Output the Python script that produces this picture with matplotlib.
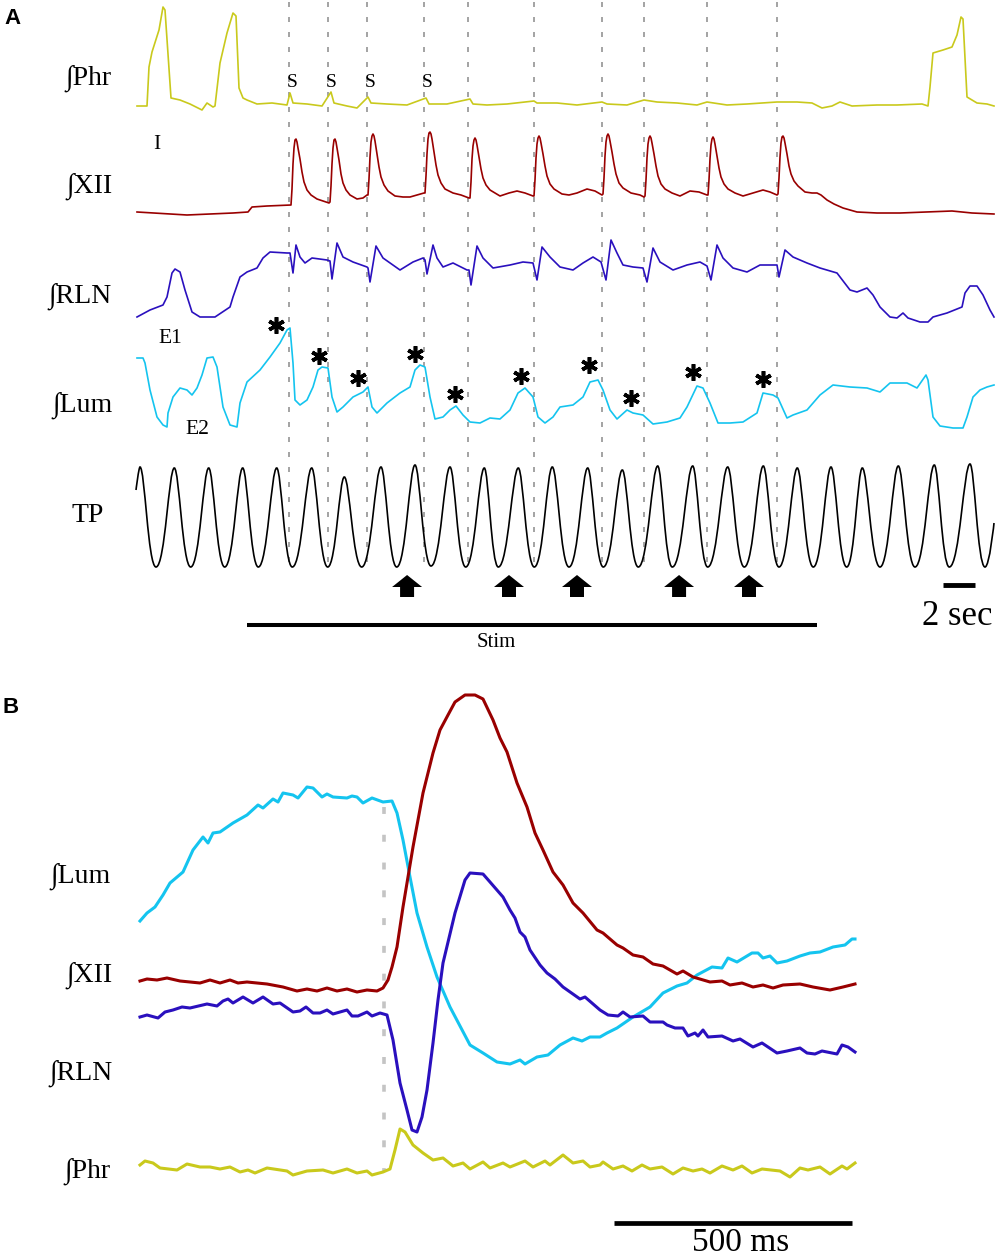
import numpy as np
import matplotlib
matplotlib.use("Agg")
import matplotlib.pyplot as plt
from matplotlib.path import Path
from matplotlib.patches import PathPatch, FancyArrow

plt.rcParams["lines.scale_dashes"] = False
SERIF = ["Liberation Serif", "DejaVu Serif"]

W, H = 1000, 1260
FS_A = 16.0            # panel A: samples per second (decimated trace)
MS_B = 500.0 / 238.0   # panel B: ms per sample

C_PHR = "#c9c91c"
C_XII = "#990000"
C_RLN = "#2a10be"
C_LUM = "#14c4ef"

# ---------------- panel A (samples, amplitude a.u.) ----------------
phr_a_x = [0, 10, 12, 15, 22, 26, 28, 34, 43, 53, 65, 70, 76, 78, 83, 90, 96, 99, 102, 106,
           110, 120, 135, 150, 153, 156, 170, 185, 194, 197, 210, 220, 231, 234, 250, 270, 289, 292, 310, 333,
           336, 350, 370, 397, 400, 420, 440, 465, 470, 490, 507, 520, 540, 560, 570, 590, 610, 640, 660, 675,
           685, 695, 703, 715, 740, 760, 785, 791, 793, 796, 806, 815, 820, 824, 826, 830, 840, 850, 857]
phr_a_y = [1, 1, 40, 55, 77, 100, 97, 9, 7, 3, -3, 4, 0, 1, 44, 74, 94, 91, 19, 9,
           7, 3, 4, 2, 14, 4, 3, 1, 15, 4, 1, -1, 10, 4, 3, 2, 9, 3, 3, 8,
           3, 2, 3, 6, 4, 4, 2, 5, 3, 2, 7, 5, 4, 2, 5, 2, 3, 5, 5, 4,
           -1, 1, 5, 1, 2, 2, 3, 1, 20, 54, 57, 60, 72, 90, 88, 10, 4, 3, 1]

xii_a_x = [0, 50, 96, 111, 115, 130, 152,
           154, 155, 156, 157, 158, 159, 160, 161, 163, 165, 167, 170, 174, 180, 186, 192,
           193, 194, 195, 196, 197, 198, 199, 200, 202, 204, 206, 209, 213, 220, 226, 230,
           231, 232, 233, 234, 235, 236, 237, 238, 240, 242, 244, 247, 251, 258, 266, 273, 280, 287,
           288, 289, 290, 291, 292, 293, 294, 295, 297, 299, 301, 304, 308, 316, 324, 332,
           333, 334, 335, 336, 337, 338, 339, 340, 342, 344, 346, 349, 353, 363, 372, 380, 388, 396,
           397, 398, 399, 400, 401, 402, 403, 404, 406, 408, 410, 413, 417, 425, 432, 440, 450, 458, 465,
           466, 467, 468, 469, 470, 471, 472, 473, 475, 477, 479, 482, 486, 494, 503, 507,
           508, 509, 510, 511, 512, 513, 514, 515, 517, 519, 521, 524, 528, 535, 543, 553, 562, 570,
           571, 572, 573, 574, 575, 576, 577, 578, 580, 582, 584, 587, 591, 598, 606, 616, 626, 633, 640,
           641, 642, 643, 644, 645, 646, 647, 648, 650, 652, 654, 657, 661, 668, 675, 680, 684, 690, 697,
           706, 720, 740, 763, 790, 815, 835, 857]
xii_a_y = [2, -1, 1, 2, 7, 8, 9,
           9, 25, 50, 66, 74, 75, 72, 66, 55, 42, 32, 24, 19, 15, 13, 11,
           12, 28, 50, 66, 74, 75, 72, 66, 54, 40, 31, 24, 19, 15, 16, 19,
           19, 35, 57, 72, 78, 80, 78, 73, 60, 47, 37, 29, 23, 18, 17, 17, 19, 21,
           21, 38, 60, 75, 81, 82, 80, 75, 62, 49, 39, 31, 25, 21, 19, 16,
           16, 32, 55, 68, 74, 76, 74, 69, 57, 45, 36, 29, 24, 18, 21, 23, 21, 18,
           18, 34, 56, 70, 76, 78, 76, 71, 60, 48, 38, 30, 25, 20, 19, 21, 25, 23, 19,
           20, 36, 58, 72, 78, 80, 78, 73, 62, 50, 40, 31, 26, 21, 19, 17,
           18, 34, 56, 70, 76, 78, 76, 71, 60, 48, 38, 30, 25, 21, 18, 23, 22, 19,
           19, 34, 55, 69, 75, 77, 75, 70, 58, 46, 37, 30, 25, 21, 18, 21, 24, 22, 19,
           20, 36, 57, 71, 77, 78, 76, 71, 60, 48, 40, 33, 28, 22, 21, 21, 19, 14, 10,
           6, 2, 1, 1, 2, 3, 1, 0]

rln_a_x = [0, 13, 26, 30, 35, 38, 43, 48, 55, 63, 78, 93, 96, 103, 110, 120, 126, 133, 150, 153,
           156, 159, 163, 168, 175, 190, 193, 195, 200, 206, 216, 230, 231, 233, 239, 246, 263, 276, 286, 288,
           290, 296, 300, 306, 316, 330, 332, 334, 340, 346, 356, 373, 386, 396, 400, 405, 413, 423, 436, 446,
           456, 464, 469, 474, 480, 486, 496, 506, 510, 516, 523, 536, 550, 563, 570, 574, 580, 586, 596, 610,
           623, 640, 642, 648, 656, 670, 683, 700, 713, 720, 730, 736, 743, 753, 760, 766, 771, 783, 791, 796,
           810, 825, 828, 833, 840, 846, 853, 857]
rln_a_y = [1, 8, 13, 21, 45, 49, 46, 28, 6, 1, 1, 11, 21, 41, 46, 50, 60, 66, 65, 65,
           45, 73, 61, 55, 60, 58, 57, 39, 75, 61, 56, 51, 50, 36, 72, 60, 48, 56, 60, 58,
           44, 73, 60, 51, 55, 48, 48, 33, 72, 60, 50, 53, 56, 55, 38, 71, 61, 51, 48, 55,
           61, 56, 38, 78, 65, 53, 51, 50, 36, 70, 56, 48, 53, 56, 52, 38, 73, 60, 50, 46,
           53, 53, 41, 68, 61, 55, 50, 45, 28, 26, 30, 23, 11, 1, 0, 5, 0, -4, -4, 1,
           5, 11, 25, 32, 32, 23, 8, 1]

lum_a_x = [0, 6, 8, 13, 20, 26, 30, 31, 36, 43, 50, 55, 60, 65, 70, 76, 80, 86, 93, 100,
           103, 110, 123, 133, 143, 150, 153, 156, 158, 163, 170, 176, 181, 185, 191, 195, 200, 206, 216, 226,
           231, 235, 240, 250, 263, 273, 278, 283, 288, 293, 298, 306, 313, 319, 326, 333, 343, 353, 363, 373,
           381, 388, 396, 401, 408, 416, 423, 436, 446, 453, 461, 466, 473, 480, 490, 496, 506, 516, 530, 543,
           550, 560, 566, 573, 581, 593, 606, 620, 626, 636, 641, 650, 656, 670, 683, 696, 713, 730, 743, 753,
           770, 780, 789, 791, 796, 803, 816, 826, 830, 836, 843, 850, 857]
lum_a_y = [70, 70, 65, 38, 11, 3, 1, 15, 31, 40, 38, 33, 40, 53, 70, 71, 61, 21, 3, 1,
           25, 46, 58, 71, 85, 98, 100, 65, 28, 23, 28, 41, 58, 61, 60, 31, 16, 21, 31, 36,
           41, 21, 15, 25, 35, 41, 58, 63, 61, 31, 9, 11, 18, 22, 13, 6, 5, 10, 9, 18,
           35, 40, 31, 11, 5, 11, 21, 23, 31, 46, 48, 38, 18, 9, 18, 15, 13, 4, 6, 10,
           21, 42, 40, 25, 5, 5, 6, 15, 35, 33, 30, 10, 13, 18, 33, 43, 41, 40, 36, 45,
           45, 40, 53, 48, 11, 2, 0, 0, 11, 31, 38, 41, 43]

# tracheal pressure: peaks and troughs of each cycle
tp_peak_x = [3, 37.3, 71.7, 105.7, 139.7, 174.7, 207.3, 244, 278, 313, 347.3, 381.3, 415.3,
             450.7, 485.3, 520.7, 555.7, 590.7, 626.3, 660.3, 694, 725.3, 761.3, 797.3, 833]
tp_peak_v = [100, 99, 99, 99, 99, 99, 90, 100, 102, 100, 99, 99, 100,
             99, 97, 101, 101, 100, 101, 99, 100, 99, 101, 102, 103]
tp_trough_x = [19, 53.7, 87.7, 121.3, 155.3, 190.7, 224.7, 259.7, 294, 328.7, 361.3, 397.3, 432,
               466.3, 501.3, 535.3, 570.7, 607.3, 642, 676.3, 709.7, 743, 778, 812.3, 848]
tp_trough_v = [0, 0, 0, 0, 0, 0, 0, 0, 1, 0, 0, 0, 0,
               0, 0, 0, 0, 0, 0, 0, 0, 0, 0, 0, 0]
tp_start = (-1, 77)
tp_end = (857, 44)

stim_s = [9.5, 11.94, 14.38, 17.94, 20.69, 24.81, 29.06, 31.69, 35.63, 40.0]
arrow_s = [16.88, 23.25, 27.5, 33.88, 38.25]
star_x = [139, 182, 221, 278, 318, 384, 452, 494, 556, 626]
star_v = [103, 72, 50, 74, 34, 52, 63, 30, 56, 49]
stim_on, stim_off = 6.9, 42.5

# ---------------- panel B (samples, amplitude a.u.) ----------------
lum_b_x = [0, 7, 15, 23, 30, 43, 53, 63, 68, 73, 80, 93, 107, 118, 123, 133, 138, 143, 153, 158,
           167, 173, 182, 187, 193, 207, 212, 217, 223, 232, 243, 252, 257, 263, 270, 277, 287, 297, 310, 330,
           343, 357, 370, 380, 385, 397, 408, 420, 433, 442, 450, 460, 467, 477, 493, 510, 523, 537, 547, 557,
           572, 582, 588, 597, 612, 618, 623, 630, 637, 647, 660, 670, 680, 693, 705, 712, 715]
lum_b_y = [143, 151, 157, 169, 181, 192, 214, 227, 221, 231, 232, 241, 249, 259, 256, 265, 262, 271, 269, 266,
           277, 276, 267, 270, 267, 266, 268, 267, 261, 266, 262, 263, 251, 224, 187, 151, 117, 87, 57, 19,
           11, 2, 0, 4, 0, 7, 9, 19, 26, 23, 27, 27, 31, 36, 47, 57, 71, 78, 81, 89,
           97, 96, 106, 102, 111, 111, 106, 108, 101, 103, 108, 111, 112, 117, 119, 125, 125]

xii_b_x = [0, 7, 17, 27, 40, 60, 70, 80, 90, 98, 107, 127, 143, 157, 167, 177, 187, 197, 207, 217,
           227, 237, 243, 248, 252, 257, 263, 273, 283, 293, 300, 308, 315, 325, 335, 343, 353, 360, 367, 377,
           387, 395, 403, 413, 423, 433, 443, 457, 463, 477, 483, 493, 503, 513, 523, 537, 543, 553, 570, 582,
           590, 602, 613, 623, 633, 643, 660, 673, 690, 703, 715]
xii_b_y = [11, 13, 12, 14, 11, 9, 12, 9, 12, 9, 10, 8, 5, 1, 3, 1, 4, 1, 3, 0,
           2, 1, 4, 12, 25, 45, 85, 145, 199, 239, 262, 277, 290, 297, 297, 293, 272, 254, 240, 209,
           185, 159, 142, 120, 107, 89, 79, 62, 59, 47, 44, 37, 35, 28, 26, 18, 21, 15, 10, 11,
           7, 9, 5, 7, 4, 7, 8, 5, 2, 5, 8]

rln_b_x = [0, 7, 18, 25, 33, 42, 50, 67, 77, 83, 88, 93, 103, 113, 123, 133, 140, 153, 160, 166,
           173, 180, 187, 193, 207, 212, 218, 227, 232, 240, 247, 253, 260, 267, 272, 277, 282, 287, 293, 298,
           303, 315, 325, 330, 343, 350, 363, 370, 375, 380, 385, 390, 400, 407, 415, 423, 440, 445, 460, 468,
           478, 483, 490, 503, 510, 523, 527, 535, 543, 548, 555, 558, 563, 568, 582, 593, 600, 613, 622, 637,
           647, 660, 667, 675, 682, 697, 702, 708, 715]
rln_b_y = [115, 117, 114, 120, 122, 125, 124, 128, 126, 131, 133, 129, 135, 129, 135, 128, 129, 120, 121, 125,
           119, 119, 122, 118, 122, 116, 116, 120, 116, 119, 117, 92, 49, 22, 2, 0, 15, 42, 89, 132,
           169, 219, 252, 259, 258, 250, 235, 222, 214, 200, 195, 182, 167, 159, 153, 145, 133, 135, 122, 117,
           116, 120, 115, 116, 110, 110, 107, 104, 104, 96, 99, 96, 102, 95, 96, 91, 93, 85, 89, 79,
           81, 84, 79, 78, 81, 78, 87, 85, 80]

phr_b_x = [0, 5, 13, 20, 37, 47, 60, 70, 80, 90, 100, 108, 115, 127, 147, 153, 167, 183, 193, 207,
           217, 227, 232, 243, 250, 255, 260, 265, 273, 283, 293, 303, 313, 323, 330, 343, 350, 363, 370, 385,
           393, 405, 410, 423, 433, 443, 450, 460, 463, 473, 483, 492, 502, 510, 522, 533, 543, 553, 562, 570,
           582, 593, 602, 612, 622, 640, 650, 660, 668, 680, 690, 702, 707, 715]
phr_b_y = [12, 16, 14, 9, 7, 13, 10, 10, 8, 10, 5, 7, 4, 9, 6, 2, 6, 7, 4, 8,
           4, 6, 2, 5, 8, 27, 48, 45, 32, 24, 17, 19, 11, 14, 8, 15, 9, 14, 10, 16,
           10, 16, 12, 22, 14, 16, 10, 12, 15, 8, 11, 6, 12, 8, 10, 3, 9, 6, 8, 4,
           11, 7, 11, 4, 8, 6, 0, 9, 7, 10, 3, 11, 8, 14]

onset_ms = 513
scale_b_start = 996

# trace baselines (layout, in panel rows)
BASE_A = {"phr": 107, "xii": 214, "rln": 318, "lum": 428, "tp": 567}
BASE_B = {"lum": 1064, "xii": 992, "rln": 1132, "phr": 1177}


def fxy(px, py):
    return px / W, 1 - py / H


fig = plt.figure(figsize=(W / 100, H / 100), dpi=100)

ax_a = fig.add_axes([0, 1 - 660 / H, 1, 660 / H])
ax_a.set_xlim(-137 / FS_A, 863 / FS_A)
ax_a.set_ylim(660, 0)
ax_a.axis("off")

ax_b = fig.add_axes([0, 0, 1, 580 / H])
ax_b.set_xlim(-140 * MS_B, 860 * MS_B)
ax_b.set_ylim(1260, 680)
ax_b.axis("off")

# stimulus markers
for t in stim_s:
    ax_a.plot([t, t], [2, 565], color="#8a8a8a", lw=1.1, dashes=(3.6, 7.2), zorder=1)

traces_a = [(phr_a_x, phr_a_y, "phr", C_PHR), (xii_a_x, xii_a_y, "xii", C_XII),
            (rln_a_x, rln_a_y, "rln", C_RLN), (lum_a_x, lum_a_y, "lum", C_LUM)]
for xs, ys, key, col in traces_a:
    ax_a.plot(np.array(xs) / FS_A, BASE_A[key] - np.array(ys), color=col, lw=1.2, zorder=2)

# TP trace through its extrema as smooth segments
ext = [(tp_start[0], tp_start[1], 0.0)]
for i in range(len(tp_peak_x)):
    ext.append((tp_peak_x[i], tp_peak_v[i], 0.3))
    ext.append((tp_trough_x[i], tp_trough_v[i], 0.5))
ext.append((tp_end[0], tp_end[1], 0.0))
ex = np.array([e[0] for e in ext]) / FS_A
ey = BASE_A["tp"] - np.array([e[1] for e in ext])
eh = [e[2] for e in ext]
verts = [(ex[0], ey[0])]
codes = [Path.MOVETO]
for i in range(len(ex) - 1):
    dx = ex[i + 1] - ex[i]
    verts += [(ex[i] + eh[i] * dx, ey[i]), (ex[i + 1] - eh[i + 1] * dx, ey[i + 1]), (ex[i + 1], ey[i + 1])]
    codes += [Path.CURVE4] * 3
ax_a.add_patch(PathPatch(Path(verts, codes), fill=False, edgecolor="black", lw=1.2, zorder=2))

# asterisks above marked Lum bursts
ax_a.plot(np.array(star_x) / FS_A, BASE_A["lum"] - np.array(star_v), linestyle="none",
          marker=(6, 2, 0), ms=12, mew=2.6, color="black", zorder=3)

# arrows under TP
for t in arrow_s:
    ax_a.add_patch(FancyArrow(t, 597, 0, -22, width=14 / FS_A, head_width=30 / FS_A,
                              head_length=12, length_includes_head=True, color="black", lw=0))

# stim bar and 2 sec bar
ax_a.plot([stim_on, stim_off], [625, 625], color="black", lw=2.9, solid_capstyle="butt")
ax_a.plot([50.4, 52.4], [585, 585], color="black", lw=3.5, solid_capstyle="butt")

# panel B
ax_b.plot([onset_ms, onset_ms], [807, 1172], color="#c4c4c4", lw=2.6, dashes=(5, 15), zorder=1)
traces_b = [(lum_b_x, lum_b_y, "lum", C_LUM), (xii_b_x, xii_b_y, "xii", C_XII),
            (rln_b_x, rln_b_y, "rln", C_RLN), (phr_b_x, phr_b_y, "phr", C_PHR)]
for xs, ys, key, col in traces_b:
    ax_b.plot(np.array(xs) * MS_B, BASE_B[key] - np.array(ys), color=col, lw=2.2, zorder=2)
ax_b.plot([scale_b_start, scale_b_start + 500], [1223, 1223], color="black", lw=3.4,
          solid_capstyle="butt")

# text
lab = dict(family=SERIF, fontsize=20, ha="right", va="baseline")
for txt, px, py in [("\u222bPhr", 112, 85), ("\u222bXII", 113, 193), ("\u222bRLN", 112, 303),
                    ("\u222bLum", 113, 412), ("\u222bLum", 111, 883), ("\u222bXII", 113, 982),
                    ("\u222bRLN", 113, 1080), ("\u222bPhr", 111, 1178)]:
    fig.text(*fxy(px, py), txt, **lab)
fig.text(*fxy(104, 522), "TP", **lab)

for i in range(4):
    x, _ = fxy(137 + stim_s[i] * FS_A + 3, 0)
    fig.text(x, 1 - 87 / H, "S", family=SERIF, fontsize=14, ha="center", va="baseline")
fig.text(*fxy(157, 149), "I", family=SERIF, fontsize=15.5, ha="center", va="baseline")
fig.text(*fxy(170, 343), "E1", family=SERIF, fontsize=15.5, ha="center", va="baseline")
fig.text(*fxy(197, 434), "E2", family=SERIF, fontsize=15.5, ha="center", va="baseline")
fig.text(*fxy(496, 647), "Stim", family=SERIF, fontsize=15, ha="center", va="baseline")
fig.text(*fxy(957, 625), "2 sec", family=SERIF, fontsize=25, ha="center", va="baseline")
fig.text(*fxy(741, 1251), "500 ms", family=SERIF, fontsize=24, ha="center", va="baseline")
fig.text(*fxy(4, 24), "A", family=["Liberation Sans", "DejaVu Sans"], fontsize=16,
         fontweight="bold", ha="left", va="baseline")
fig.text(*fxy(3, 713), "B", family=["Liberation Sans", "DejaVu Sans"], fontsize=16,
         fontweight="bold", ha="left", va="baseline")

fig.savefig("out.png", dpi=100, facecolor="white")
